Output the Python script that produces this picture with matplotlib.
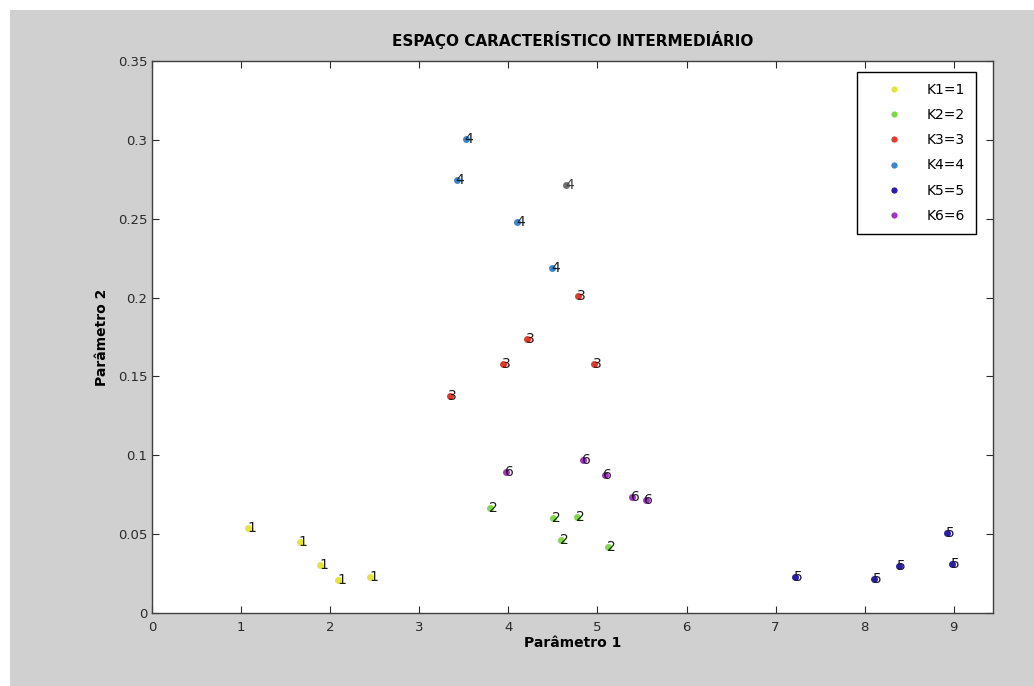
import matplotlib
matplotlib.use("Agg")
import matplotlib.pyplot as plt
from matplotlib.patches import Rectangle

# cluster points (Parametro 1, Parametro 2)
k1_x = [1.08, 1.66, 1.89, 2.09, 2.45]
k1_y = [0.0539, 0.045, 0.0304, 0.0209, 0.0228]
k2_x = [3.79, 4.50, 4.77, 4.59, 5.12]
k2_y = [0.0666, 0.0602, 0.0609, 0.0463, 0.0419]
k3_x = [3.34, 3.94, 4.21, 4.78, 4.96]
k3_y = [0.1376, 0.158, 0.1737, 0.201, 0.158]
k4_x = [3.52, 3.42, 4.10, 4.49]
k4_y = [0.3006, 0.2746, 0.248, 0.2188]
k5_x = [7.22, 8.11, 8.38, 8.92, 8.98]
k5_y = [0.0228, 0.0216, 0.030, 0.0507, 0.031]
k6_x = [3.97, 4.84, 5.08, 5.39, 5.54]
k6_y = [0.0894, 0.097, 0.0875, 0.0736, 0.0717]
# odd grey point labelled 4
extra_x = [4.65]
extra_y = [0.2714]

groups = [
    (k1_x, k1_y, "1", "#e4e43a", "K1=1"),
    (k2_x, k2_y, "2", "#7ed84a", "K2=2"),
    (k3_x, k3_y, "3", "#e03a2a", "K3=3"),
    (k4_x, k4_y, "4", "#3a86d0", "K4=4"),
    (k5_x, k5_y, "5", "#2a1ea8", "K5=5"),
    (k6_x, k6_y, "6", "#a630c8", "K6=6"),
]

xticks = [0, 1, 2, 3, 4, 5, 6, 7, 8, 9]
yticks = [0, 0.05, 0.1, 0.15, 0.2, 0.25, 0.3, 0.35]
ytick_labels = ["0", "0.05", "0.1", "0.15", "0.2", "0.25", "0.3", "0.35"]

fig = plt.figure(figsize=(10.34, 6.86), dpi=100, facecolor="white")
# grey matlab-like figure area
fig.patches.append(Rectangle((10 / 1034, 0), 1, 1 - 10 / 686, transform=fig.transFigure,
                             facecolor="#d0d0d0", edgecolor="none", zorder=-10))

ax = fig.add_axes([0.147, 0.1064, 0.8133, 0.8047])
ax.set_facecolor("white")

for gx, gy, lab, col, name in groups:
    ax.plot(gx, gy, "o", color=col, ms=5, mec="none", label=name, zorder=3)
    for x, y in zip(gx, gy):
        ax.annotate(lab, (x, y), xytext=(-0.8, 0), textcoords="offset points",
                    ha="left", va="center", fontsize=10, color="#1a1a1a", zorder=4)

ax.plot(extra_x, extra_y, "o", color="#707070", ms=5, mec="none", zorder=3)
for x, y in zip(extra_x, extra_y):
    ax.annotate("4", (x, y), xytext=(-0.8, 0), textcoords="offset points",
                ha="left", va="center", fontsize=10, color="#404040", zorder=4)

ax.set_xlim(0, 9.44)
ax.set_ylim(0, 0.35)
ax.set_xticks(xticks)
ax.set_yticks(yticks)
ax.set_yticklabels(ytick_labels)
ax.tick_params(direction="in", top=True, right=True, length=5, width=0.8,
               labelsize=9.5, labelcolor="#2a2a2a", colors="#2a2a2a")
ax.tick_params(axis="x", pad=6)
for s in ax.spines.values():
    s.set_color("#404040")
    s.set_linewidth(1.0)

ax.set_title("ESPAÇO CARACTERÍSTICO INTERMEDIÁRIO", fontsize=11, fontweight="bold", pad=11)
ax.set_xlabel("Parâmetro 1", fontsize=10, fontweight="bold", labelpad=1)
ax.set_ylabel("Parâmetro 2", fontsize=10, fontweight="bold", labelpad=6)

leg = ax.legend(loc="upper right", bbox_to_anchor=(0.98, 0.98), fontsize=10,
                fancybox=False, framealpha=1, edgecolor="black", markerscale=0.9,
                handlelength=3.7, handletextpad=0.5, labelspacing=0.8,
                borderpad=0.8, borderaxespad=0)
leg.get_frame().set_linewidth(1.0)

fig.savefig("out.png", dpi=100, facecolor=fig.get_facecolor())
